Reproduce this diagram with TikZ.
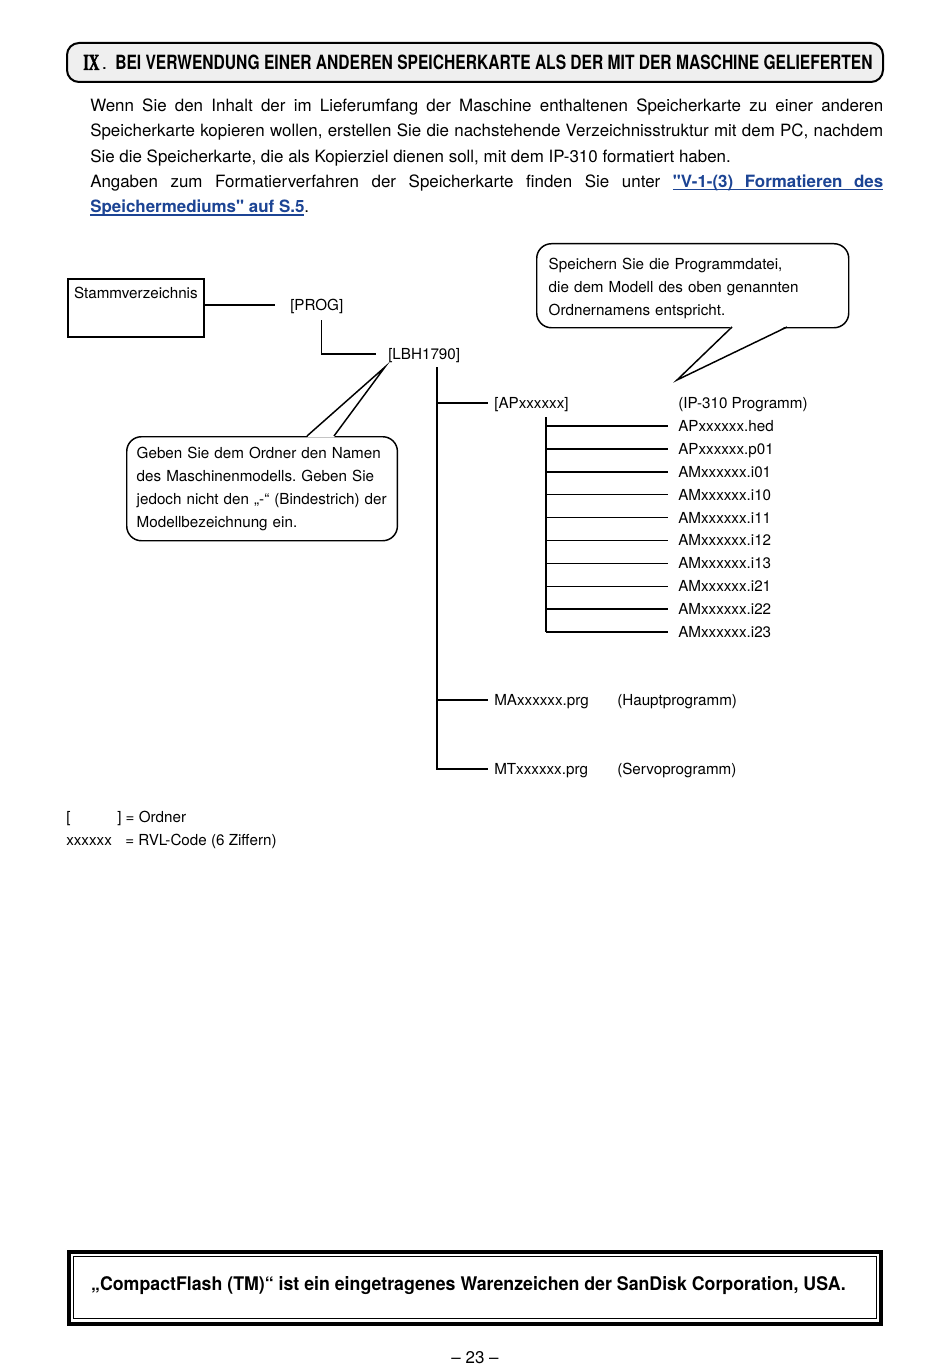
\documentclass[tikz,border=0pt]{standalone}
\usepackage{fontspec}
\setmainfont{TeX Gyre Heros}[Ligatures=TeXOff]
\newfontfamily\ixfont{Liberation Serif}[FakeBold=2.5]
\usepackage{graphicx}
\usetikzlibrary{positioning}
\definecolor{linkblue}{RGB}{28,68,148}
\definecolor{titlegray}{RGB}{239,239,239}
\newcommand{\treefont}{\fontsize{11.4}{17.25}\selectfont\frenchspacing}
\newcommand{\bodyfont}{\fontsize{12.7}{19}\selectfont\frenchspacing}
\newcommand{\ulw}[1]{\setbox0\hbox{#1}\rlap{\vrule height -1.3pt depth 2.3pt width \wd0}\box0}
\newcommand{\uls}{\leaders\hrule height -1.3pt depth 2.3pt\hskip 0.28em plus 0.12em minus 0.05em}

\tikzset{
  lbl/.style={inner sep=0pt, anchor=west, font=\treefont, text height=8.2pt, text depth=0pt},
  callout/.style={draw, line width=1.1pt, rounded corners=11pt, align=left, font=\treefont, anchor=north west},
  branch/.style={line width=1.1pt},
  pointer/.style={line width=1.1pt, line join=miter}
}

\begin{document}
\begin{tikzpicture}[x=0.75pt,y=-0.75pt]
\useasboundingbox[fill=white] (0,0) rectangle (950,1369);

% title bar
\node[draw, line width=1.5pt, rounded corners=9pt, fill=titlegray, minimum width=612pt, minimum height=29.25pt] (titlebar) at (475,62.5) {};
\node[inner sep=0pt, anchor=west] (secno) at (83,62.5) {\resizebox{12pt}{11.2pt}{\ixfont\bfseries IX}\hspace{2.5pt}\bfseries .};
\node[inner sep=0pt, anchor=west] (titletext) at (115,62.5) {\resizebox{568pt}{10.9pt}{\bfseries BEI VERWENDUNG EINER ANDEREN SPEICHERKARTE ALS DER MIT DER MASCHINE GELIEFERTEN}};

% intro text
\node[anchor=north west, inner sep=0pt, text width=594.75pt, align=justify, font=\bodyfont] (intro) at (90,98.5) {Wenn Sie den Inhalt der im Lieferumfang der Maschine enthaltenen Speicherkarte zu einer anderen\linebreak Speicherkarte kopieren wollen, erstellen Sie die nachstehende Verzeichnisstruktur mit dem PC, nachdem\linebreak Sie die Speicherkarte, die als Kopierziel dienen soll, mit dem IP-310 formatiert haben.\\ Angaben zum Formatierverfahren der Speicherkarte finden Sie unter \textcolor{linkblue}{\bfseries\ulw{"V-1-(3)}\uls\ulw{Formatieren}\uls\ulw{des}}\linebreak \textcolor{linkblue}{\bfseries\ulw{Speichermediums"}\uls\ulw{auf}\uls\ulw{S.5}}.};

% directory tree
\node[draw, line width=1.3pt, anchor=north west, font=\treefont, inner xsep=3.5pt, inner ysep=0pt, text height=15pt, text depth=28.5pt, minimum width=102pt] (root) at (67,278) {Stammverzeichnis};
\node[lbl] (prog) at (290,305) {[PROG]};
\node[lbl] (lbh) at (388,354) {[LBH1790]};
\node[lbl] (ap) at (494,403) {[APxxxxxx]};
\node[lbl] (ipprog) at (678,403) {(IP-310 Programm)};
\node[lbl] (ma) at (494,700) {MAxxxxxx.prg};
\node[lbl] (maprog) at (617,700) {(Hauptprogramm)};
\node[lbl] (mt) at (494,769) {MTxxxxxx.prg};
\node[lbl] (mtprog) at (617,769) {(Servoprogramm)};

\draw[branch] (root.east |- prog.west) -- ([xshift=-11.25pt]prog.west);
\draw[branch] ([xshift=3.75pt,yshift=-7pt]prog.south) |- ([xshift=-9pt]lbh.west);

\coordinate (trunk) at (437,367);
\draw[branch] (trunk) |- ([xshift=-4.5pt]ap.west);
\draw[branch] (trunk) |- ([xshift=-4.5pt]ma.west);
\draw[branch] (trunk) |- ([xshift=-4.5pt]mt.west);

\coordinate (apbar) at (546,417);
\foreach \fname [count=\k from 0] in {APxxxxxx.hed,APxxxxxx.p01,AMxxxxxx.i01,AMxxxxxx.i10,AMxxxxxx.i11,AMxxxxxx.i12,AMxxxxxx.i13,AMxxxxxx.i21,AMxxxxxx.i22,AMxxxxxx.i23}{
  \node[lbl] (f\k) at (678,{426+22.89*\k}) {\fname};
  \draw[branch] (apbar |- f\k.west) -- ([xshift=-7.5pt]f\k.west);
}
\draw[branch] (apbar) -- (apbar |- f9.west);

% callouts
\node[callout, inner xsep=7.5pt, text width=188pt, minimum height=78pt] (note1) at (126,436) {Geben Sie dem Ordner den Namen\\ des Maschinenmodells. Geben Sie\\ jedoch nicht den „-“ (Bindestrich) der\\ Modellbezeichnung ein.};
\coordinate (n1a) at (307,436);
\coordinate (n1b) at (334,436);
\coordinate (n1tip) at (385,367);
\fill[white] ([yshift=-1pt]n1a) -- (n1tip) -- ([yshift=-1pt]n1b) -- cycle;
\draw[pointer] (n1a) -- (n1tip) -- (n1b);

\node[callout, inner xsep=9pt, text width=216pt, minimum height=63pt] (note2) at (536,243) {\rule{0pt}{13pt}Speichern Sie die Programmdatei,\\ die dem Modell des oben genannten\\ Ordnernamens entspricht.};
\coordinate (n2a) at (732,327);
\coordinate (n2b) at (787,327);
\coordinate (n2tip) at (677,380);
\fill[white] ([yshift=1pt]n2a) -- (n2tip) -- ([yshift=1pt]n2b) -- cycle;
\draw[pointer] (n2a) -- (n2tip) -- (n2b);

% legend
\node[lbl] (lgopen) at (66,817) {[};
\node[lbl] (lgclose) at (117,817) {] = Ordner};
\node[lbl] (lgcode) at (66,840) {xxxxxx};
\node[lbl] (lgdesc) at (125,840) {= RVL-Code (6 Ziffern)};

% trademark box
\node[draw, line width=3pt, minimum width=609pt, minimum height=54pt] (tmouter) at (475,1288) {};
\node[draw, line width=0.9pt, minimum width=602.25pt, minimum height=46.5pt] (tminner) at (475,1287.5) {};
\node[inner sep=0pt] (tmtext) at (468.5,1285.5) {\resizebox{566pt}{10.5pt}{\bfseries „CompactFlash (TM)“ ist ein eingetragenes Warenzeichen der SanDisk Corporation, USA.}};

\node[inner sep=0pt, font=\bodyfont] (pageno) at (475,1358) {– 23 –};
\end{tikzpicture}
\end{document}
